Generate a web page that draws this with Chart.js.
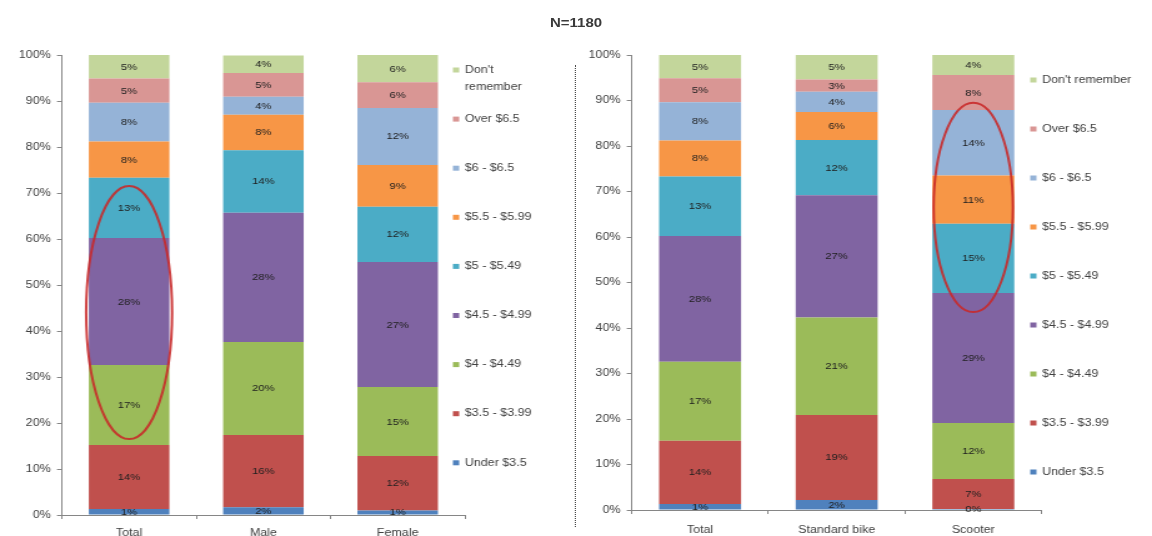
<!DOCTYPE html>
<html>
<head>
<meta charset="utf-8">
<title>Price paid per ride</title>
<script src="https://cdn.jsdelivr.net/npm/chart.js@4.4.1/dist/chart.umd.min.js"></script>
<style>
  html, body { margin: 0; padding: 0; background: #fff; overflow: hidden; }
  /* the whole figure is laid out on a 922px stage and widened to the 1152px window */
  #stage { position: absolute; left: 0; top: 0; width: 922px; height: 536px;
           transform: scaleX(1.2495); transform-origin: 0 0; }
  #title { position: absolute; left: 0; top: 16px; width: 922px; text-align: center;
           font: bold 12px "Liberation Sans", Arial, sans-serif; color: #3a3a3a; }
  #divider { position: absolute; left: 460px; top: 65px; height: 462px;
             border-left: 1px dotted #4a4a4a; }
  canvas { position: absolute; top: 0; }
</style>
</head>
<body>
<div id="stage">
  <div id="title">N=1180</div>
  <canvas id="byGender" width="458" height="536" style="left:0"></canvas>
  <div id="divider"></div>
  <canvas id="byVehicle" width="460" height="536" style="left:462px"></canvas>
</div>
<script>
// Price bands, bottom of the stack first
const priceBands = ['Under $3.5', '$3.5 - $3.99', '$4 - $4.49', '$4.5 - $4.99', '$5 - $5.49',
                    '$5.5 - $5.99', '$6 - $6.5', 'Over $6.5', "Don't remember"];
const bandColors = ['#4F81BD', '#C0504D', '#9BBB59', '#8064A2', '#4BACC6',
                    '#F79646', '#95B3D7', '#D99694', '#C3D69B'];

const genderGroups = ['Total', 'Male', 'Female'];
const vehicleGroups = ['Total', 'Standard bike', 'Scooter'];

// Share of respondents (%) in each price band, same order as priceBands
const total        = [1.3, 13.9, 17.4, 27.6, 13.1, 7.9, 8.4, 5.3, 5.1];
const male         = [1.7, 15.7, 20.2, 28.1, 13.6, 7.7, 3.9, 5.2, 3.8];
const female       = [1.0, 11.8, 15.0, 27.2, 12.0, 9.1, 12.4, 5.6, 5.9];
const standardBike = [2.2, 18.7, 21.4, 26.9, 12.1, 6.2, 4.4, 2.7, 5.4];
const scooter      = [0.2, 6.6, 12.3, 28.6, 15.2, 10.6, 14.4, 7.7, 4.4];

// Percentage axis
const yMin = 0, yMax = 100, yStep = 10;

// Ranges ringed on each chart (group, lower %, upper %)
const genderRing  = { group: 'Total',   from: 16.5, to: 71.5 };
const vehicleRing = { group: 'Scooter', from: 43.5, to: 89.5 };

const FONT = '"Liberation Sans", Arial, sans-serif';
const TEXT = '#404040';
const AXIS = '#868686';

function buildDatasets(series) {
  return priceBands.map((band, b) => ({
    label: band,
    data: series.map(s => s[b]),
    backgroundColor: bandColors[b],
    borderWidth: 0,
    barPercentage: 0.6,
    categoryPercentage: 1
  }));
}

// Percentage written in the middle of every stacked segment
const segmentLabels = {
  id: 'segmentLabels',
  afterDatasetsDraw(chart) {
    const ctx = chart.ctx;
    ctx.save();
    ctx.font = '9px ' + FONT;
    ctx.fillStyle = '#202020';
    ctx.textAlign = 'center';
    ctx.textBaseline = 'middle';
    chart.data.datasets.forEach((ds, di) => {
      chart.getDatasetMeta(di).data.forEach((bar, i) => {
        ctx.fillText(Math.round(ds.data[i]) + '%', bar.x, (bar.y + bar.base) / 2 + 0.5);
      });
    });
    ctx.restore();
  }
};

// Oval drawn round one bar between two percentage levels
const highlightRing = {
  id: 'highlightRing',
  afterDraw(chart, args, opts) {
    if (!opts || !opts.group) return;
    const xs = chart.scales.x, ys = chart.scales.y;
    const idx = chart.data.labels.indexOf(opts.group);
    const cx = xs.getPixelForValue(idx);
    const yTop = ys.getPixelForValue(opts.to);
    const yBot = ys.getPixelForValue(opts.from);
    const rx = xs.width / chart.data.labels.length * opts.spread;
    const ctx = chart.ctx;
    ctx.save();
    ctx.strokeStyle = opts.color;
    ctx.lineWidth = opts.width;
    ctx.beginPath();
    ctx.ellipse(cx, (yTop + yBot) / 2, rx, (yBot - yTop) / 2, 0, 0, Math.PI * 2);
    ctx.stroke();
    ctx.restore();
  }
};

function wrapText(ctx, text, maxWidth) {
  if (!maxWidth || ctx.measureText(text).width <= maxWidth) return [text];
  const words = text.split(' ');
  const lines = [];
  let line = '';
  words.forEach(w => {
    const test = line ? line + ' ' + w : w;
    if (line && ctx.measureText(test).width > maxWidth) { lines.push(line); line = w; }
    else line = test;
  });
  if (line) lines.push(line);
  return lines;
}

// Legend column beside the plot, top band first
const sideLegend = {
  id: 'sideLegend',
  afterDraw(chart, args, opts) {
    const ctx = chart.ctx;
    ctx.save();
    ctx.font = '10px ' + FONT;
    ctx.textBaseline = 'middle';
    let y = opts.top;
    chart.data.datasets.slice().reverse().forEach(ds => {
      ctx.fillStyle = ds.backgroundColor;
      ctx.fillRect(opts.x - 2.5, y - 2.5, 5, 5);
      ctx.fillStyle = TEXT;
      wrapText(ctx, ds.label, opts.maxWidth).forEach((ln, k) => {
        ctx.fillText(ln, opts.x + 7, y + k * 17);
      });
      y += opts.step;
    });
    ctx.restore();
  }
};

function makeChart(canvasId, groups, series, frame, ring, legend) {
  return new Chart(document.getElementById(canvasId), {
    type: 'bar',
    data: { labels: groups, datasets: buildDatasets(series) },
    plugins: [segmentLabels, highlightRing, sideLegend],
    options: {
      responsive: false,
      animation: false,
      layout: { padding: { top: frame.top, right: frame.right, bottom: 0, left: 0 } },
      plugins: {
        legend: { display: false },
        tooltip: { enabled: false },
        title: { display: false },
        highlightRing: Object.assign({ color: 'rgba(200,40,40,0.88)', width: 2 }, ring),
        sideLegend: legend
      },
      scales: {
        x: {
          stacked: true,
          grid: { offset: true, drawOnChartArea: false, tickLength: 4, color: AXIS },
          border: { color: AXIS },
          ticks: { font: { family: FONT, size: 10 }, color: TEXT, padding: frame.xPad, maxRotation: 0 },
          afterFit(scale) { scale.height = frame.xHeight; }
        },
        y: {
          stacked: true,
          min: yMin, max: yMax,
          grid: { drawOnChartArea: false, tickLength: 4, color: AXIS },
          border: { color: AXIS },
          ticks: { stepSize: yStep, callback: v => v + '%',
                   font: { family: FONT, size: 10 }, color: TEXT, padding: 5 },
          afterFit(scale) { scale.width = frame.yWidth; }
        }
      }
    }
  });
}

makeChart('byGender', genderGroups, [total, male, female],
  { top: 55, right: 86, xHeight: 21, yWidth: 49.6, xPad: 8 },
  Object.assign({ spread: 0.32 }, genderRing),
  { x: 365, top: 70, step: 49.1, maxWidth: 70 });

makeChart('byVehicle', vehicleGroups, [total, standardBike, scooter],
  { top: 55, right: 88.4, xHeight: 26, yWidth: 43.6, xPad: 10 },
  Object.assign({ spread: 0.29 }, vehicleRing),
  { x: 365, top: 80, step: 49, maxWidth: 0 });
</script>
</body>
</html>
